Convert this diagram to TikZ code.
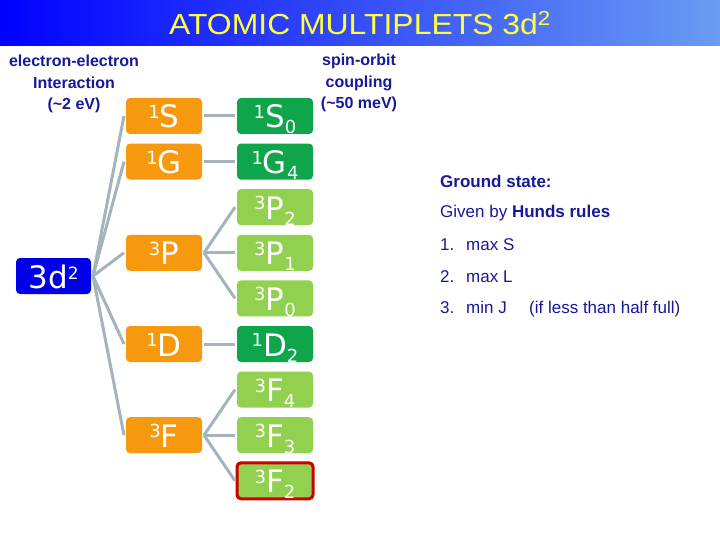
\documentclass[tikz,border=0pt]{standalone}
\usepackage{fontspec}
\setmainfont{Liberation Sans}
\newfontfamily\boxfont{DejaVu Sans}
\usetikzlibrary{positioning}
\definecolor{Navy}{HTML}{18189A}
\definecolor{BarLeft}{HTML}{0000FF}
\definecolor{BarRight}{HTML}{6A9CF2}
\definecolor{Sun}{HTML}{FFFF40}
\definecolor{Amber}{HTML}{F7990F}
\definecolor{DeepGreen}{HTML}{0FA54B}
\definecolor{LeafGreen}{HTML}{92D050}
\definecolor{Royal}{HTML}{0000E8}
\definecolor{Steel}{HTML}{A3B5BB}
\definecolor{Alarm}{HTML}{CC0000}
\newcommand{\lvl}[3]{\raisebox{9.5pt}{\fontsize{18}{18}\selectfont #1}#2\raisebox{-6pt}{\fontsize{18}{18}\selectfont #3}}

\begin{document}
\begin{tikzpicture}[x=1pt,y=-1pt,node distance=5.6pt,
term/.style={rounded corners=4pt,minimum width=76pt,minimum height=36pt,text height=24pt,text depth=0pt,inner sep=0pt,outer sep=2pt,text=white,font=\boxfont\fontsize{31}{31}\selectfont},
orbox/.style={term,fill=Amber},
dkbox/.style={term,fill=DeepGreen},
ltbox/.style={term,fill=LeafGreen},
note/.style={text=Navy,font=\bfseries\fontsize{16}{21.5}\selectfont,align=center,inner sep=0pt},
hund/.style={text=Navy,font=\fontsize{17}{17}\selectfont,anchor=west,inner sep=0pt},
link/.style={draw=Steel,line width=3pt}]
\useasboundingbox (0,0) rectangle (720,540);
\fill[white] (0,0) rectangle (720,540);
% title bar
\shade[left color=BarLeft,right color=BarRight] (0,0) rectangle (720,46);
\node[text=Sun,font=\fontsize{29}{29}\selectfont] (title) at (360,23) {\scalebox{1.1}[1]{ATOMIC MULTIPLETS 3d\textsuperscript{2}}};
% J levels
\node[dkbox] (s0) at (275,116) {\lvl{1}{S}{0}};
\node[dkbox,below=of s0] (g4) {\lvl{1}{G}{4}};
\node[ltbox,below=of g4] (p2) {\lvl{3}{P}{2}};
\node[ltbox,below=of p2] (p1) {\lvl{3}{P}{1}};
\node[ltbox,below=of p1] (p0) {\lvl{3}{P}{0}};
\node[dkbox,below=of p0] (d2) {\lvl{1}{D}{2}};
\node[ltbox,below=of d2] (f4) {\lvl{3}{F}{4}};
\node[ltbox,below=of f4] (f3) {\lvl{3}{F}{3}};
\node[ltbox,below=of f3,draw=Alarm,line width=3pt] (f2) {\lvl{3}{F}{2}};
% LS terms
\node[orbox,left=31pt of s0] (ls) {\lvl{1}{S}{}};
\node[orbox,left=31pt of g4] (lg) {\lvl{1}{G}{}};
\node[orbox,left=31pt of p1] (tp) {\lvl{3}{P}{}};
\node[orbox,left=31pt of d2] (ld) {\lvl{1}{D}{}};
\node[orbox,left=31pt of f3] (tf) {\lvl{3}{F}{}};
\node[term,fill=Royal,minimum width=75pt] (cfg) at (53.5,276) {3d\raisebox{9pt}{\fontsize{17}{17}\selectfont 2}};
\foreach \u/\v in {cfg/ls,cfg/lg,cfg/tp,cfg/ld,cfg/tf,ls/s0,lg/g4,tp/p2,tp/p1,tp/p0,ld/d2,tf/f4,tf/f3,tf/f2}{\draw[link] (\u.east)--(\v.west);}
% labels
\node[note] (eelbl) at (74,84) {electron-electron\\Interaction\\(\textasciitilde2 eV)};
\node[note] (solbl) at (359,83) {spin-orbit\\coupling\\(\textasciitilde50 meV)};
\node[hund] (ground) at (440,181) {\bfseries Ground state:};
\node[hund] (given) at (440,213) {Given by \textbf{Hunds rules}};
\node[hund] (rule1) at (440,245) {\makebox[26pt][l]{1.}max S};
\node[hund] (rule2) at (440,277) {\makebox[26pt][l]{2.}max L};
\node[hund] (rule3) at (440,309) {\makebox[26pt][l]{3.}\makebox[63pt][l]{min J}(if less than half full)};
\end{tikzpicture}
\end{document}
